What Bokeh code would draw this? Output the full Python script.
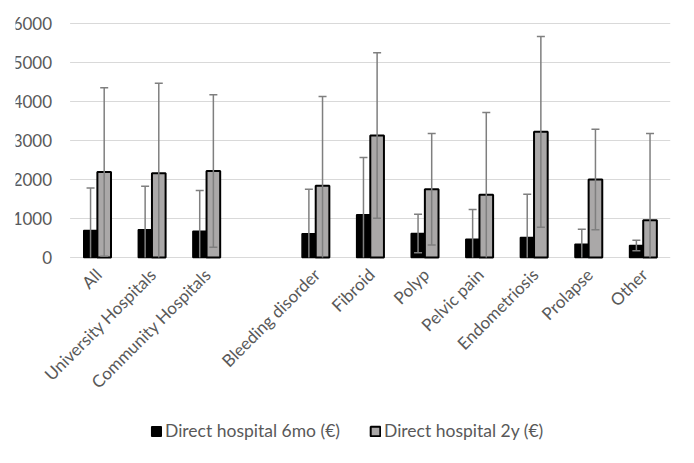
import math
from bokeh.plotting import figure
from bokeh.models import (FactorRange, Range1d, Legend, LegendItem,
                          ColumnDataSource, LabelSet)
from bokeh.core.properties import value
from bokeh.transform import dodge
from bokeh.embed import file_html
from bokeh.resources import INLINE

categories = ["All", "University Hospitals", "Community Hospitals", "Bleeding disorder",
              "Fibroid", "Polyp", "Pelvic pain", "Endometriosis", "Prolapse", "Other"]
axis_factors = ["  "] + categories[:3] + [" "] + categories[3:]
mean_6mo = [690, 710, 675, 607, 1094, 615, 470, 513, 342, 308]
err_6mo = [1090, 1120, 1045, 1143, 1470, 496, 760, 1111, 384, 136]
mean_2y = [2190, 2160, 2215, 1838, 3128, 1750, 1607, 3222, 2000, 957]
err_2y = [2160, 2310, 1955, 2290, 2120, 1430, 2111, 2445, 1291, 2223]
y_ticks = [0, 1000, 2000, 3000, 4000, 5000, 6000]
y_tick_labels = [str(t) for t in y_ticks]
series_labels = ["Direct hospital 6mo (€)", "Direct hospital 2y (€)"]

FONT = "Lato"
FS = "17px"
TXT = "#595959"
GRID = "#d9d9d9"

# value axis 0..6000 spans 234px; frame extended above/below to hold all texts
Y_MAX = 6000
PLOT_H = 234
TOP_H = 13
EXTRA_H = 198
per_px = Y_MAX / PLOT_H
y_top = Y_MAX + TOP_H * per_px
y_min = -EXTRA_H * per_px

lo6 = [m - e for m, e in zip(mean_6mo, err_6mo)]
lo2 = [m - e for m, e in zip(mean_2y, err_2y)]
src = ColumnDataSource(dict(
    cat=categories, base=[0] * len(categories),
    m6=mean_6mo, lo6=[max(v, 0) for v in lo6], up6=[m + e for m, e in zip(mean_6mo, err_6mo)],
    m2=mean_2y, lo2=[max(v, 0) for v in lo2], up2=[m + e for m, e in zip(mean_2y, err_2y)],
))
cap6 = ColumnDataSource(dict(cat=[c for c, v in zip(categories, lo6) if v > 0], y=[v for v in lo6 if v > 0]))
cap2 = ColumnDataSource(dict(cat=[c for c, v in zip(categories, lo2) if v > 0], y=[v for v in lo2 if v > 0]))
grid_src = ColumnDataSource(dict(y=y_ticks, label=y_tick_labels,
                                 first=[categories[0]] * len(y_ticks),
                                 last=[categories[-1]] * len(y_ticks)))

p = figure(x_range=FactorRange(*axis_factors, range_padding=0), y_range=Range1d(y_min, y_top),
           frame_width=655, frame_height=TOP_H + PLOT_H + EXTRA_H,
           output_backend="svg", toolbar_location=None,
           min_border_left=15, min_border_right=16, min_border_top=10, min_border_bottom=0)
p.outline_line_color = None
p.background_fill_color = "white"
p.border_fill_color = "white"
p.xaxis.visible = False
p.yaxis.visible = False
p.xgrid.grid_line_color = None
p.ygrid.grid_line_color = None

# horizontal gridlines across the category area
p.segment(x0=dodge("first", -0.5, range=p.x_range), y0="y",
          x1=dodge("last", 0.5, range=p.x_range), y1="y",
          source=grid_src, line_color=GRID, line_width=1)

off = 0.125
bw = 0.25
r1 = p.vbar(x=dodge("cat", -off, range=p.x_range), top="m6", bottom=0, width=bw, source=src,
            fill_color="black", line_color="black", line_width=1.5)
r2 = p.vbar(x=dodge("cat", off, range=p.x_range), top="m2", bottom=0, width=bw, source=src,
            fill_color="#aaa8a8", line_color="black", line_width=2)

EB = "#7f7f7f"
for o, lo, up, cap in [(-off, "lo6", "up6", cap6), (off, "lo2", "up2", cap2)]:
    xs = dodge("cat", o, range=p.x_range)
    p.segment(x0=xs, y0=lo, x1=xs, y1=up, source=src, line_color=EB, line_width=1.5)
    p.dash(x=xs, y=up, size=8, source=src, line_color=EB, line_width=1.5)
    p.dash(x=dodge("cat", o, range=p.x_range), y="y", size=8, source=cap, line_color=EB, line_width=1.5)

y_labels = LabelSet(x=dodge("first", -0.5, range=p.x_range), y="y", text="label", source=grid_src,
                    x_offset=-18, text_align="right", text_baseline="middle",
                    text_font=value(FONT), text_font_size=FS, text_color=TXT)
p.add_layout(y_labels)

cat_labels = LabelSet(x="cat", y="base", text="cat", source=src, angle=math.pi / 4,
                      text_align="right", text_baseline="middle",
                      x_offset=1, y_offset=-14,
                      text_font=value(FONT), text_font_size=FS, text_color=TXT)
p.add_layout(cat_labels)

legend = Legend(items=[LegendItem(label=series_labels[0], renderers=[r1]),
                       LegendItem(label=series_labels[1], renderers=[r2])],
                orientation="horizontal", location=(131, 10),
                border_line_alpha=0, background_fill_alpha=0,
                label_text_font=FONT, label_text_font_size="17.5px", label_text_color=TXT,
                glyph_width=12, glyph_height=12, spacing=29, label_standoff=3,
                margin=0, padding=4)
p.add_layout(legend)

open("out.html", "w").write(file_html(p, INLINE))
